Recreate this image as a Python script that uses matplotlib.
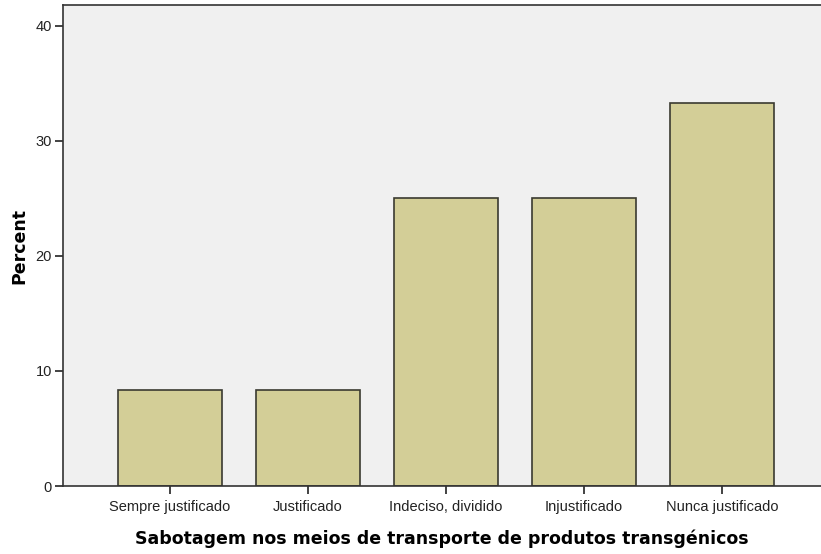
import matplotlib.pyplot as plt

categories = ["Sempre justificado", "Justificado", "Indeciso, dividido",
              "Injustificado", "Nunca justificado"]
percent = [8.33, 8.33, 25.0, 25.0, 33.33]

plt.rcParams['font.family'] = ['Liberation Sans', 'DejaVu Sans']

fig = plt.figure(figsize=(8.21, 5.54), dpi=100)
ax = fig.add_axes([0.0767, 0.1227, 0.9233, 0.868])
ax.set_facecolor("#f0f0f0")

x = range(len(categories))
ax.bar(x, percent, width=0.754, color="#d3ce97", edgecolor="#3a3a30", linewidth=1.2, zorder=2)

ax.set_xlim(-0.775, 4.717)
ax.set_ylim(0, 41.8)
ax.set_yticks([0, 10, 20, 30, 40])
ax.set_xticks(list(x))
ax.set_xticklabels(categories)
ax.tick_params(axis="both", direction="out", length=6, width=1.2, labelsize=10.5, colors="#222222")
ax.tick_params(axis="x", pad=4)
ax.tick_params(axis="y", pad=2)

for side in ["left", "bottom", "top"]:
    ax.spines[side].set_linewidth(1.2)
    ax.spines[side].set_color("#333333")
ax.spines["right"].set_visible(False)

ax.set_ylabel("Percent", fontsize=12.5, fontweight="bold", family="DejaVu Sans", labelpad=5)
ax.set_xlabel("Sabotagem nos meios de transporte de produtos transgénicos",
              fontsize=12.5, fontweight="bold", family="DejaVu Sans", labelpad=11)

fig.savefig("out.png", dpi=100)
